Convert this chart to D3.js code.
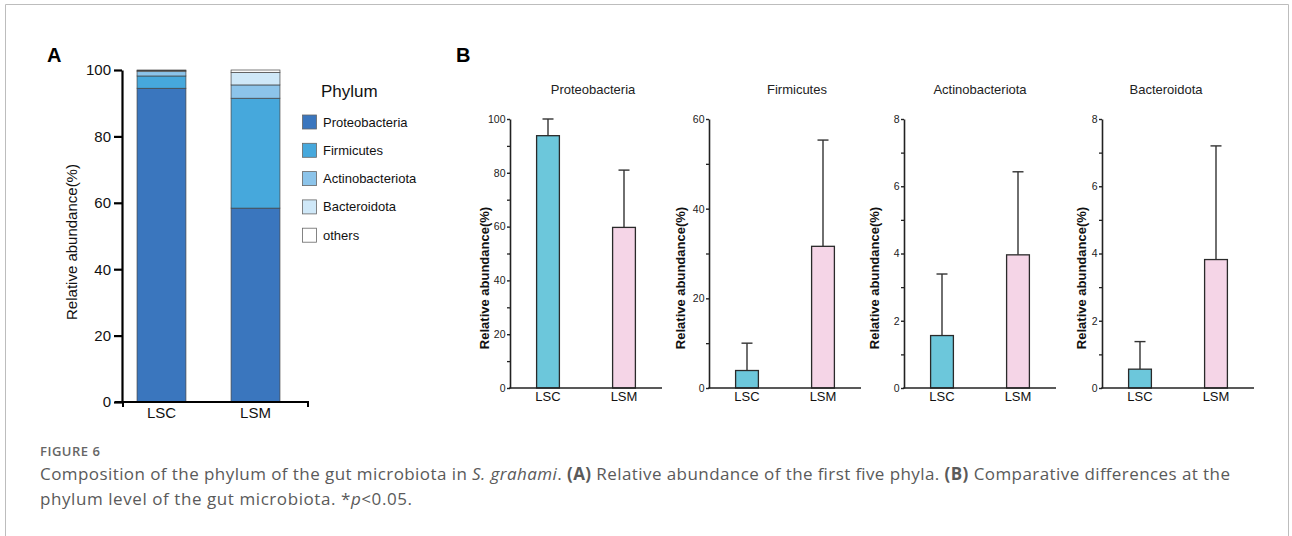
<!DOCTYPE html>
<html>
<head>
<meta charset="utf-8">
<script src="https://cdn.jsdelivr.net/npm/d3@7"></script>
<style>
  body { margin: 0; background: #fff; }
  svg text { font-family: "Liberation Sans", Arial, sans-serif; }
  .cap { font-family: "Open Sans", "Noto Sans", sans-serif !important; }
</style>
</head>
<body>
<script>
// ---- data ----
const groups = ['LSC', 'LSM'];
const phyla = ['Proteobacteria', 'Firmicutes', 'Actinobacteriota', 'Bacteroidota', 'others'];
const stackLSC = [94.5, 3.7, 1.3, 0.3, 0.2];
const stackLSM = [58.4, 33.1, 4.0, 3.8, 0.7];
const yTicksA = [0, 20, 40, 60, 80, 100];

const panelsB = ['Proteobacteria', 'Firmicutes', 'Actinobacteriota', 'Bacteroidota'];
const meanLSC = [93.8, 3.9, 1.56, 0.56];
const errLSC = [6.2, 6.1, 1.83, 0.82];
const meanLSM = [59.7, 31.6, 3.96, 3.82];
const errLSM = [21.3, 23.7, 2.47, 3.38];
const yMaxB = [100, 60, 8, 8];
const majorStepB = [20, 20, 2, 2];
const minorStepB = [10, 10, 1, 1];

const width = 1292, height = 536;

let svg = d3.select('body')
  .append('svg')
  .attr('width', width)
  .attr('height', height);

// frame
svg.append('path')
  .attr('d', 'M5.5,540 V4.5 H1288.5 V540')
  .attr('fill', 'none')
  .attr('stroke', '#bdbdbd')
  .attr('stroke-width', 1);

// ---- panel A ----
let phylumColor = d3.scaleOrdinal()
  .domain(phyla)
  .range(['#3a76be', '#46a8dc', '#8cc4ea', '#cfe8f8', '#ffffff']);

let tableA = groups.map((g, i) => {
  let row = { group: g };
  let vals = i === 0 ? stackLSC : stackLSM;
  phyla.forEach((p, j) => row[p] = vals[j]);
  return row;
});

let stacked = d3.stack().keys(phyla)(tableA);

let yA = d3.scaleLinear().domain([0, 100]).range([402, 70]);
let xA = d3.scaleBand().domain(groups).range([122, 295])
  .paddingInner(0.48).paddingOuter(0.16);

svg.append('text')
  .attr('x', 47).attr('y', 62)
  .text('A')
  .style('font-size', '20px')
  .style('font-weight', 'bold');

svg.append('g')
  .selectAll('g')
  .data(stacked)
  .enter()
  .append('g')
  .attr('fill', d => phylumColor(d.key))
  .selectAll('rect')
  .data(d => d)
  .enter()
  .append('rect')
  .attr('x', d => xA(d.data.group))
  .attr('width', xA.bandwidth())
  .attr('y', d => yA(d[1]))
  .attr('height', d => yA(d[0]) - yA(d[1]))
  .attr('stroke', '#444')
  .attr('stroke-width', 0.7);

let yAxisA = svg.append('g')
  .attr('transform', 'translate(122,0)')
  .call(d3.axisLeft(yA).tickValues(yTicksA).tickSize(8).tickPadding(3).tickSizeOuter(0));
yAxisA.select('.domain').attr('stroke-width', 2.2).attr('stroke', '#000');
yAxisA.selectAll('.tick line').attr('stroke-width', 2.2).attr('stroke', '#000');
yAxisA.selectAll('.tick text').style('font-size', '15px').attr('fill', '#111').attr('font-family', 'Liberation Sans, Arial');

// x axis A
svg.append('line')
  .attr('x1', 115).attr('x2', 309).attr('y1', 402).attr('y2', 402)
  .attr('stroke', '#000').attr('stroke-width', 2.2);
[123, 308].forEach(x => {
  svg.append('line')
    .attr('x1', x).attr('x2', x).attr('y1', 402).attr('y2', 407)
    .attr('stroke', '#000').attr('stroke-width', 2);
});
let xAxisA = svg.append('g')
  .attr('transform', 'translate(0,402)')
  .call(d3.axisBottom(xA).tickSize(0).tickPadding(5));
xAxisA.select('.domain').remove();
xAxisA.selectAll('.tick text').style('font-size', '15px').attr('fill', '#111').attr('font-family', 'Liberation Sans, Arial');

svg.append('text')
  .attr('transform', 'translate(71,242) rotate(-90)')
  .attr('text-anchor', 'middle')
  .attr('dominant-baseline', 'central')
  .text('Relative abundance(%)')
  .style('font-size', '15px')
  .attr('fill', '#111');

// legend
let legend = svg.append('g');
legend.append('text')
  .attr('x', 321).attr('y', 97)
  .text('Phylum')
  .style('font-size', '17px')
  .attr('fill', '#111');

phyla.forEach((p, i) => {
  let cy = 122 + i * 28.3;
  legend.append('rect')
    .attr('x', 302.5).attr('y', cy - 7)
    .attr('width', 14).attr('height', 14)
    .attr('fill', phylumColor(p))
    .attr('stroke', '#666')
    .attr('stroke-width', 0.8);
  legend.append('text')
    .attr('x', 323).attr('y', cy)
    .attr('dominant-baseline', 'central')
    .text(p)
    .style('font-size', '13px')
    .attr('fill', '#111');
});

// ---- panel B ----
svg.append('text')
  .attr('x', 456).attr('y', 62)
  .text('B')
  .style('font-size', '20px')
  .style('font-weight', 'bold');

const axisXB = [510, 709, 904, 1102];
const titleOffB = [83, 88, 76, 64];
const labelOffB = [26, 29, 30, 21];
const groupColor = d3.scaleOrdinal().domain(groups).range(['#6cc7db', '#f5d5e7']);

panelsB.forEach((name, k) => {
  let x0 = axisXB[k];
  let g = svg.append('g');
  let y = d3.scaleLinear().domain([0, yMaxB[k]]).range([388, 119]);
  let x = d3.scaleBand().domain(groups).range([x0, x0 + 152])
    .paddingInner(0.7).paddingOuter(0.35);

  let means = [meanLSC[k], meanLSM[k]];
  let errs = [errLSC[k], errLSM[k]];
  let rows = groups.map((grp, i) => ({ group: grp, mean: means[i], err: errs[i] }));

  // error bars (upper only)
  rows.forEach(d => {
    let cx = x(d.group) + x.bandwidth() / 2;
    g.append('line')
      .attr('x1', cx).attr('x2', cx)
      .attr('y1', y(d.mean)).attr('y2', y(d.mean + d.err))
      .attr('stroke', '#333').attr('stroke-width', 1.4);
    g.append('line')
      .attr('x1', cx - 5.5).attr('x2', cx + 5.5)
      .attr('y1', y(d.mean + d.err)).attr('y2', y(d.mean + d.err))
      .attr('stroke', '#333').attr('stroke-width', 1.4);
  });

  g.selectAll('.bar')
    .data(rows)
    .enter()
    .append('rect')
    .attr('class', 'bar')
    .attr('x', d => x(d.group))
    .attr('width', x.bandwidth())
    .attr('y', d => y(d.mean))
    .attr('height', d => y(0) - y(d.mean))
    .attr('fill', d => groupColor(d.group))
    .attr('stroke', '#2a2a2a')
    .attr('stroke-width', 1.3);

  // minor ticks
  let minor = d3.range(minorStepB[k], yMaxB[k], majorStepB[k]);
  let minorAxis = g.append('g')
    .attr('transform', `translate(${x0},0)`)
    .call(d3.axisLeft(y).tickValues(minor).tickSize(3).tickFormat(''));
  minorAxis.select('.domain').remove();
  minorAxis.selectAll('.tick line').attr('stroke', '#222').attr('stroke-width', 1.3);

  let yAxis = g.append('g')
    .attr('transform', `translate(${x0},0)`)
    .call(d3.axisLeft(y).tickValues(d3.range(0, yMaxB[k] + 0.01, majorStepB[k]))
      .tickSize(3).tickPadding(1.5).tickSizeOuter(0));
  yAxis.select('.domain').attr('stroke', '#222').attr('stroke-width', 1.6);
  yAxis.selectAll('.tick line').attr('stroke', '#222').attr('stroke-width', 1.4);
  yAxis.selectAll('.tick text').style('font-size', '10.5px').attr('fill', '#222').attr('font-family', 'Liberation Sans, Arial');

  let xAxis = g.append('g')
    .attr('transform', 'translate(0,388)')
    .call(d3.axisBottom(x).tickSize(0).tickPadding(4));
  xAxis.select('.domain').remove();
  xAxis.selectAll('.tick text').style('font-size', '13px').attr('fill', '#111').attr('font-family', 'Liberation Sans, Arial');
  g.append('line')
    .attr('x1', x0 - 0.8).attr('x2', x0 + 152).attr('y1', 388).attr('y2', 388)
    .attr('stroke', '#222').attr('stroke-width', 1.6);

  g.append('text')
    .attr('x', x0 + titleOffB[k]).attr('y', 94)
    .attr('text-anchor', 'middle')
    .text(name)
    .style('font-size', '13px')
    .attr('fill', '#222');

  g.append('text')
    .attr('transform', `translate(${x0 - labelOffB[k]},278) rotate(-90)`)
    .attr('text-anchor', 'middle')
    .attr('dominant-baseline', 'central')
    .text('Relative abundance(%)')
    .style('font-size', '13px')
    .style('font-weight', 'bold')
    .attr('fill', '#111');
});

// ---- caption ----
svg.append('text')
  .attr('class', 'cap')
  .attr('x', 40).attr('y', 456)
  .text('FIGURE 6')
  .style('font-size', '13px')
  .style('font-weight', 600)
  .style('letter-spacing', '0.5px')
  .attr('fill', '#666');

let line1 = svg.append('text')
  .attr('class', 'cap')
  .attr('x', 40).attr('y', 480)
  .attr('textLength', 1190)
  .attr('lengthAdjust', 'spacing')
  .style('font-size', '17px')
  .attr('fill', '#5a5a5a');
line1.append('tspan').text('Composition of the phylum of the gut microbiota in ');
line1.append('tspan').style('font-style', 'italic').text('S. grahami');
line1.append('tspan').text('. ');
line1.append('tspan').style('font-weight', 'bold').text('(A)');
line1.append('tspan').text(' Relative abundance of the first five phyla. ');
line1.append('tspan').style('font-weight', 'bold').text('(B)');
line1.append('tspan').text(' Comparative differences at the');

let line2 = svg.append('text')
  .attr('class', 'cap')
  .attr('x', 40).attr('y', 505)
  .attr('textLength', 372)
  .attr('lengthAdjust', 'spacing')
  .style('font-size', '17px')
  .attr('fill', '#5a5a5a');
line2.append('tspan').text('phylum level of the gut microbiota. *');
line2.append('tspan').style('font-style', 'italic').text('p');
line2.append('tspan').text('<0.05.');
</script>
</body>
</html>
